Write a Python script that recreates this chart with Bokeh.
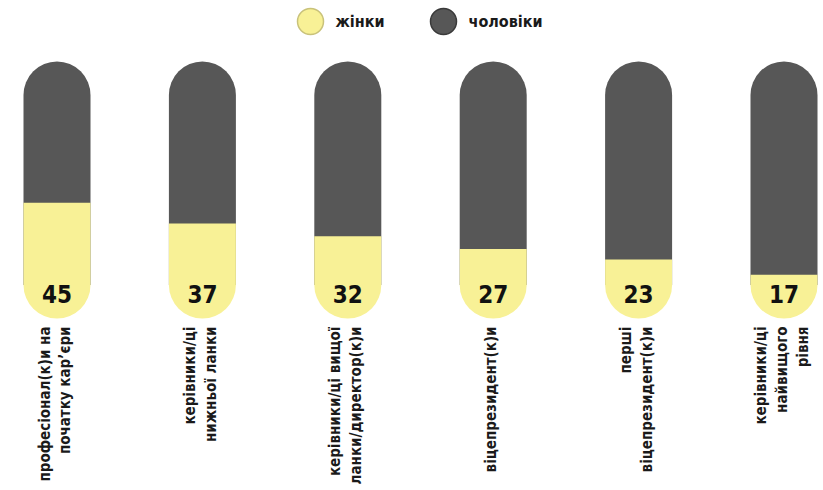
import math
from bokeh.plotting import figure
from bokeh.models import Range1d, ColumnDataSource
from bokeh.core.properties import value
from bokeh.embed import file_html
from bokeh.resources import INLINE

# ---- data ----
categories = [
    "професіонал(к)и на\nпочатку кар’єри",
    "керівники/ці\nнижньої ланки",
    "керівники/ці вищої\nланки/директор(к)и",
    "віцепрезидент(к)и",
    "перші\nвіцепрезидент(к)и",
    "керівники/ці\nнайвищого\nрівня",
]
women = [45, 37, 32, 27, 23, 17]
total = [100, 100, 100, 100, 100, 100]
legend_labels = ["жінки", "чоловіки"]

YELLOW = "#F8F196"
DARK = "#575757"
FONT = "'DejaVu Sans Condensed', 'Liberation Sans Narrow', Roboto, sans-serif"

W, H = 823, 490
# layout: pixel geometry
X0_PX, STEP_PX = 56.5, 145.4      # first capsule centre, spacing
BASE_PX, TOP_PX = 318.0, 61.0     # pixel of value 0 and of value 100
SCALE = (BASE_PX - TOP_PX) / 100.0
R_PX = 33.5
CAP_W = 2 * R_PX / STEP_PX
R_U = R_PX / SCALE

def px_x(px):
    return (px - X0_PX) / STEP_PX

def px_y(py):
    return (BASE_PX - py) / SCALE

p = figure(width=W, height=H, output_backend="svg", toolbar_location=None,
           x_range=Range1d(px_x(0), px_x(W)), y_range=Range1d(px_y(H), px_y(0)),
           min_border=0)
p.axis.visible = False
p.grid.visible = False
p.outline_line_color = None
p.background_fill_color = "white"
p.border_fill_color = "white"

n = len(categories)
xs = list(range(n))
src = ColumnDataSource(dict(
    x=xs,
    total=total,
    women=women,
    top_c=[t - R_U for t in total],
    bot_c=[R_U] * n,
    lab=[str(v) for v in women],
    cat=categories,
))

# dark capsule (men = full height)
p.vbar(x="x", bottom="bot_c", top="top_c", width=CAP_W, source=src,
       fill_color=DARK, line_color=None)
p.wedge(x="x", y="top_c", radius=R_PX, radius_units="screen",
        start_angle=0, end_angle=math.pi, source=src,
        fill_color=DARK, line_color=None)
# yellow part (women)
p.wedge(x="x", y="bot_c", radius=R_PX, radius_units="screen",
        start_angle=math.pi, end_angle=2 * math.pi, source=src,
        fill_color=YELLOW, line_color=None)
p.vbar(x="x", bottom="bot_c", top="women", width=CAP_W, source=src,
       fill_color=YELLOW, line_color=None)

# value numbers
p.text(x="x", y=0, text="lab", source=src, y_offset=-25,
       text_align="center", text_baseline="middle",
       text_font=value(FONT), text_font_style="bold",
       text_font_size="24px", text_color="#111111")

# category labels (rotated)
p.text(x="x", y=0, text="cat", source=src, angle=math.pi / 2,
       x_offset=-2, y_offset=8,
       text_align="right", text_baseline="middle",
       text_font=value(FONT), text_font_style="bold",
       text_font_size="15px", text_color="#1a1a1a", text_line_height=1.15)

# legend
leg = ColumnDataSource(dict(
    cx=[px_x(310), px_x(443)], cy=[px_y(21), px_y(21)],
    tx=[px_x(335), px_x(468)],
    col=[YELLOW, DARK], edge=["#c9c27a", "#3a3a3a"],
    lab=legend_labels,
))
p.circle(x="cx", y="cy", radius=13, radius_units="screen", source=leg,
         fill_color="col", line_color="edge", line_width=1.5)
p.text(x="tx", y="cy", text="lab", source=leg,
       text_align="left", text_baseline="middle",
       text_font=value(FONT), text_font_style="bold",
       text_font_size="16px", text_color="#1a1a1a")

open("out.html", "w").write(file_html(p, INLINE))
